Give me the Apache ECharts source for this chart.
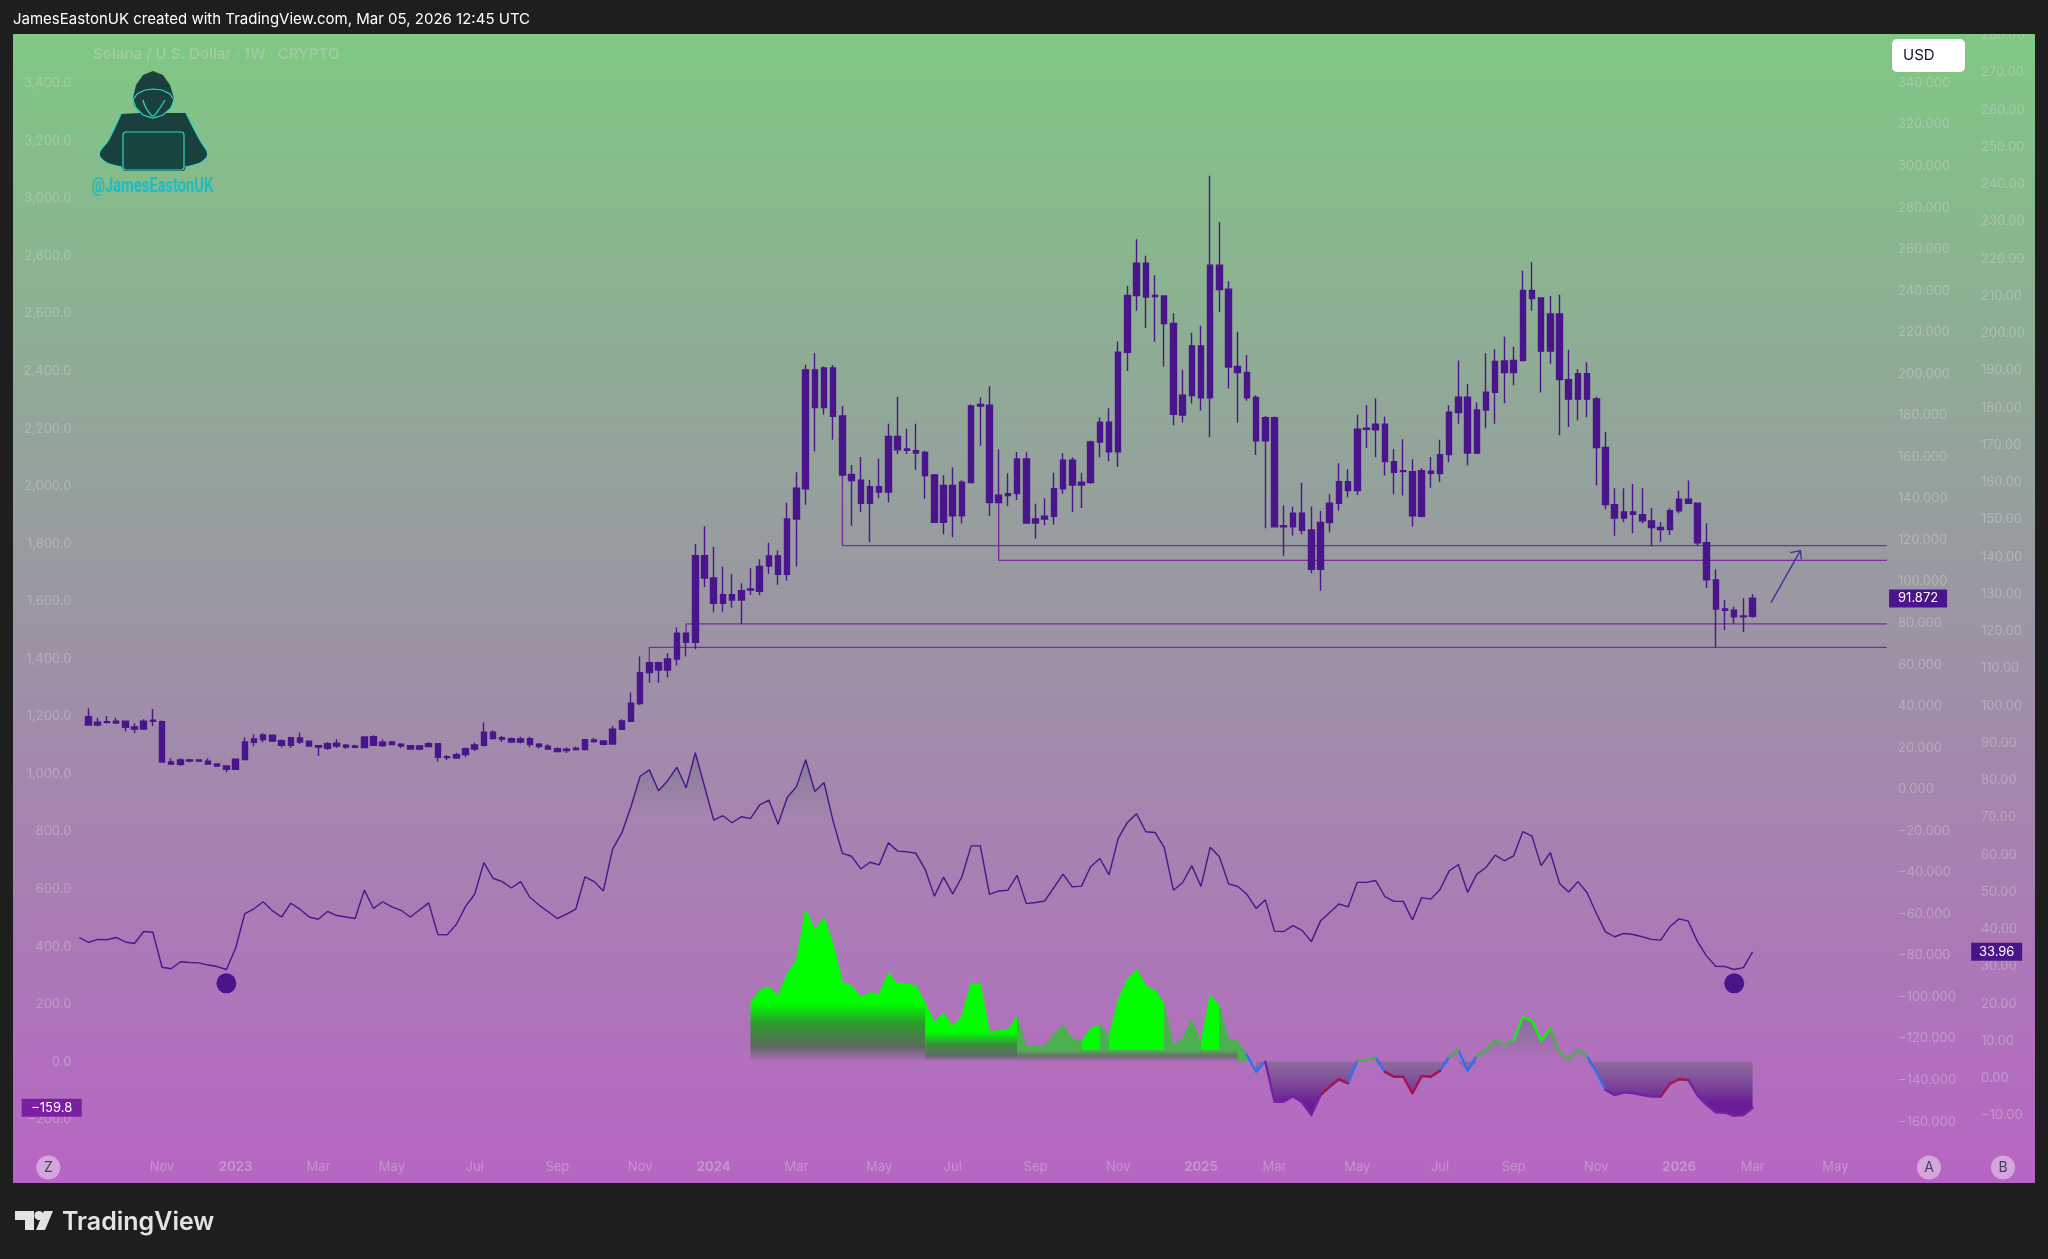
<!DOCTYPE html>
<html><head><meta charset="utf-8">
<style>html,body{margin:0;padding:0;background:#1e1e1e}#c{width:2048px;height:1259px}</style>
<script src="https://cdn.jsdelivr.net/npm/echarts@6/dist/echarts.min.js"></script>
</head><body><div id="c"></div>
<script>
// ---- weekly candles (all drawn in one colour, so body top / bottom are what can be read)
const bodyTop=[34.97,32.24,32.56,32.72,32.72,29.99,32.72,33.2,32.56,13.14,
14.1,14.1,14.1,13.46,12.18,11.21,14.42,22.77,24.21,26.14,
25.98,23.41,24.85,24.69,23.09,21,21.96,22.12,21.16,20.84,
25.17,25.33,22.6,22.77,21.64,21,20.84,21.96,21.96,15.7,
16.67,19.56,21.32,27.42,27.42,24.85,24.37,24.21,24.37,21.64,
20.68,19.56,19.24,19.72,23.89,23.73,23.25,28.87,32.88,41.39,
56.15,60.97,60.97,62.73,75.09,75.09,
112.48,112.48,101.73,93.7,93.7,95.6,96.4,107.3,112.3,112.3,130.1,144.9,201.9,201.9,202.8,202.8,179.7,151.5,148.8,145.7,145.7,169.9,169.9,163.8,163,162.2,151.3,146.3,146.3,147.8,184.5,185.2,184.9,141.5,142.3,159,159,130.1,131.4,144.7,158.4,158.4,147.8,167.2,
176.7,176.7,210.4,237.7,253.2,253.2,237.7,237.5,224.3,189.7,213.4,213.4,252.3,252.3,240.7,203.5,200.6,188.6,178.9,178.9,126.9,132.9,132.9,124.8,128.4,137.7,148.1,148.1,173.3,173.8,175.7,175.7,157.7,153.4,152.9,153.4,153.1,161.1,181.5,188.7,188.7,182.6,191.1,206,
206.2,206.4,240.1,240.1,236.5,228.8,228.8,197.2,200,200,187.9,164.5,137,133.5,133.5,132.2,129.2,126,134.1,139.6,139.6,137.7,118.7,100.8,86.8,86.2,83.4,92];
const bodyBottom=[30.95,30.95,32.08,31.92,29.83,29.03,29.03,32.72,13.14,12.18,
12.01,13.62,13.62,12.18,11.21,9.6,9.6,14.26,22.61,23.89,
23.25,21.16,21.16,22.77,20.84,20.36,19.72,20.84,20.36,20.2,
20.04,21.16,21,21.48,20.84,19.4,19.4,20.52,15.38,15.22,
15.06,16.67,19.4,21.16,24.37,24.21,22.77,22.77,21.48,20.52,
19.4,18.11,18.6,19.08,19.08,22.93,21.64,21.8,28.87,32.72,
41.2,56.15,57.43,57.43,62.73,70.76,
70.75,101.73,89.53,89.53,91.1,91.1,95.95,95.3,107.5,103.5,103.5,130.1,144.7,183.7,183.7,179.6,151.3,148.6,137.7,137.7,143.1,143.1,163.4,163.2,161.9,151,128.5,128.5,131.6,131.6,147.6,184.5,138,138,141.4,142.3,128.2,128.2,130.1,131.4,144.6,146.5,146.5,147.6,
167.2,162.4,162.4,210.4,237.7,237,237.2,224.2,180.5,180.2,189.5,188.4,188.4,240.6,203.3,200.6,188.4,167.7,167.7,126.3,126.4,126.3,124.7,105.9,105.9,128.4,137.7,143.8,143.8,173.3,173.1,157.7,152.6,152.9,131.6,131.4,152.1,152,161.1,181.3,161.9,161.8,182.6,191.1,
200.6,200.6,206.4,236.2,210.9,211,197.2,187.8,187.8,187.8,164.5,137,130.5,130.5,132.4,129.2,126,125,125,134.1,137.7,118.7,100.8,86.8,86.2,83,83,83.3];
const highs=[38.98,34.48,35.29,34.48,33.04,31.76,33.68,38.66,33.04,14.9,
14.9,14.58,14.26,14.9,12.5,11.37,14.74,25.01,26.46,26.94,
25.98,24.05,25.33,27.26,23.41,21.16,22.77,24.05,21.8,21.48,
25.33,25.98,24.05,23.25,22.12,21.32,21.32,22.6,22.29,16.51,
17.63,20.04,22.44,32.08,28.38,25.65,24.85,25.33,25.33,22.29,
21.64,20.2,20.04,20.52,24.21,24.85,23.73,30.47,33.68,46.52,
63.9,61.5,61.1,65.46,77.98,75.5,
118.1,126.45,116.8,107.2,103.5,99.2,106.4,110.7,118.7,114.9,138,152.6,204.4,209.9,203.5,204.3,184.5,156.1,160,148.9,159.2,175.9,189,173.6,175.9,163,151.8,151.2,154.9,148.8,185.2,188.6,194,163.7,152.1,162.4,162.2,137.4,140.1,152.4,161.8,159.8,152.4,167.9,
179.1,183.4,215.5,242.3,264.8,256.8,247.5,237.5,229.2,201.9,219.8,223.1,295.3,273,244.6,220.3,209.1,189.7,179.7,179.4,136.7,136.1,147.6,136.1,134,142,156.9,154,180.4,184.9,188.1,179.4,163.7,168.5,158.9,154.5,160,168.2,184.9,206.4,195.1,186.3,209.9,211.8,
217.9,213.1,249.7,253.7,236.9,237.5,238,211.5,202.2,205.6,189,172,144.9,144.9,147,144.9,135.4,128.7,135.3,143.8,148.6,138,128,105.9,91.1,87.9,92,94];
const lows=[30.63,30.31,31.76,31.6,27.9,26.94,28.54,30.47,12.82,11.85,
11.21,12.98,13.3,11.85,11.05,8.16,9.6,14.1,20.68,22.6,
22.77,20.04,19.88,21.96,20.68,16.03,18.92,19.88,19.4,20.04,
19.88,21,20.36,21.32,19.88,19.24,18.76,20.2,13.3,14.1,
14.9,15.55,18.43,20.52,24.05,22.77,22.44,22.12,20.2,19.72,
18.92,17.79,17.47,18.6,18.76,22.44,21.16,21.64,28.54,32.56,
40.6,51.3,51.3,53.74,59.52,63.85,
67.4,97.4,85.2,85.5,87.4,79.6,93.5,93.4,103.7,98.5,100.4,107.2,137,162.6,180.4,168.2,151,126.8,133.5,118.9,140.1,138,161.4,161.4,153.7,139.8,128.4,122.6,121.3,127.9,147.5,165.4,131.6,137.8,136.4,139.3,127.9,120.7,127.1,127.4,142.2,133.5,135.4,147.1,
159.7,157.9,155.3,201.4,230.3,222,215.4,203.5,175.2,176.5,185.7,182.3,169.5,229.8,192.9,176.5,187,160.9,125.6,126,112.3,122.1,122.8,104,95.6,123.7,134.1,140.6,141.7,164.3,159.8,151,142,141.4,126.4,130.9,145.2,147.9,157.4,175.9,156,161.4,173.8,175.9,
185.8,194.5,206.2,230.4,191,204.8,170.4,174.4,177.6,179.1,146.2,134.8,122,128.7,123.2,128.1,117,119.2,122.4,132.9,137.5,117.1,96.9,68.2,76.7,79.7,75.7,82.6];
// ---- RSI-style line on the right-hand scale (rsiLead is the point just before the first candle)
const rsiLead=37.8;
const rsiValues=[36.5,37.3,37.2,37.8,36.6,36.2,39.4,39.2,29.8,29.4,31.3,31.1,31,30.4,30,29.2,34.9,44.2,45.5,47.4,45,43.3,47,45.4,43.3,42.7,44.8,43.7,43.3,42.9,50.5,45.6,47.4,46,45.1,43.3,45.2,47.1,38.6,38.5,41.3,46.1,49.4,57.9,53.7,52.8,51.1,52.8,48.6,46.5,44.7,42.9,44.1,45.4,54.1,52.8,50.3,61.5,65.8,72.9,
81.1,82.8,77.2,79.9,83.5,78,87.4,78.4,69.3,70.5,68.6,70.2,69.7,73.4,74.7,68.2,75.4,78.3,85.5,77,79.4,68.9,60.4,59.6,56.2,58,57.3,63.2,61,60.8,60.4,56.1,48.9,54,49.5,54.1,62.4,62.4,49.4,50.3,50.5,54.5,46.9,47.2,47.6,51.2,54.8,51.4,51.6,56.8,59,54.6,64.4,68.7,71,66.2,66,62,50.5,52.5,57.1,51.5,62,59.5,52.2,51.5,49.4,45.6,47.9,39.5,39.4,41,39.7,36.7,42.2,44.5,46.8,46,52.6,52.6,53.1,48.8,47.5,47.5,42.5,48.5,48.1,50.7,55.7,57.4,49.9,54.8,56.6,59.9,58.4,59.7,66.2,65,57.1,60.6,52.3,50,52.8,49.8,44.3,39.3,38,38.9,38.6,38,37.3,37.1,40.7,42.8,42.2,36.7,32.8,30.1,30,29.2,29.7,33.96];
const markerLevel=25.5, markerWeeks=[15,179];
// ---- oscillator on the left-hand scale, starts at week 72
const oscStart=72;
const oscValues=[203,249,259,228,307,353,527,458,500,405,276,264,224,240,235,309,272,270,264,203,136,168,122,159,272,272,104,108,110,156,55,56,55,93,128,81,70,116,128,87,214,286,321,263,247,203,58,78,145,64,232,193,79,70,23,-35,
0,-139,-139,-120,-141,-185,-116,-87,-61,-75,4,4,15,-35,-52,-52,-110,-50,-52,-31,18,41,-31,20,41,73,60,73,154,143,73,114,33,8,43,20,-35,-98,-116,-106,-109,-116,-121,-121,-77,-61,-63,-116,-150,-176,-177,-188,-185,-159.8];
// week ranges of each colour of the oscillator
const brightFillA=[[72,91]], brightFillB=[[91,101]];
const brightFillC=[[105,106],[108,110],[111,117],[119,120],[121,123]];
const mutedFillC=[[101,105],[106,108],[110,111],[117,119],[120,121],[123,125]];
const mutedTail=[[125,126]];
const blueWeeks=[[126,128],[137,138],[140,141],[147,148],[149,151],[163,165]];
const mutedLineWeeks=[[138,140],[148,149],[151,155],[157,158],[159,163]];
const brightLineWeeks=[[155,157],[158,159]];
const redWeeks=[[134,137],[141,147],[171,174]];
const purpleWeeks=[[128,134],[165,171],[174,181]];
const baseBands=[[72,91,203],[91,101,104],[101,125,40]];
// ---- horizontal levels (week, price)
const levelA=[[82,151.3],[82,117.3],[195.6,117.3]];
const levelB=[[99,138],[99,110.2],[195.6,110.2]];
const levelC=[[65,75.1],[65,79.6],[195.6,79.6]];
const levelD=[[61,61],[61,68.3],[195.6,68.3]];
const arrowShaft=[[183,89.8],[186.2,114.9]];
const arrowHead=[[185.1,113.9],[186.2,114.9],[186.3,110.7]];
// ---- tick labels
const timeTicks=[[8,'Nov'],[16,'2023'],[25,'Mar'],[33,'May'],[42,'Jul'],[51,'Sep'],[60,'Nov'],[68,'2024'],[77,'Mar'],[86,'May'],[94,'Jul'],[103,'Sep'],[112,'Nov'],[121,'2025'],[129,'Mar'],[138,'May'],[147,'Jul'],[155,'Sep'],[164,'Nov'],[173,'2026'],[181,'Mar'],[190,'May']];
const lastPrice=91.872, lastRsi=33.96, lastOsc=-159.8;

const PRE=8, TOTAL=220, INK='#4a148c', LEVEL='#7a2ba0';
const FAINT='rgba(214,214,214,0.42)';
const FONT='Inter, "Noto Sans", sans-serif';
const firstWeek=Date.UTC(2022,8,12);
const categories=[];
for(let c=0;c<TOTAL;c++){categories.push(new Date(firstWeek+(c-PRE)*7*864e5).toISOString().slice(0,10));}
const tickByCat={};timeTicks.forEach(t=>{tickByCat[t[0]+PRE]=t[1];});
const pad=(v)=>Array(PRE).fill(null).concat(v);
const oscAt=w=>oscValues[w-oscStart];
function zone(ranges,map){
  const a=Array(TOTAL).fill(null);
  ranges.forEach(r=>{for(let w=r[0];w<=r[1];w++){const v=oscAt(w);a[w+PRE]=map?map(v):v;}});
  return a;
}
const minus=s=>s.replace('-','\u2212');
const blankCandle=['-','-','-','-'];
const candleData=Array(PRE).fill(blankCandle).concat(bodyTop.map((t,i)=>[bodyBottom[i],t,lows[i],highs[i]]));
const grad=(stops)=>new echarts.graphic.LinearGradient(0,0,0,1,stops);
const lineBase={type:'line',xAxisIndex:1,yAxisIndex:1,showSymbol:false,symbol:'none',silent:true,connectNulls:false};
function fillZone(ranges,color,origin){return Object.assign({},lineBase,{data:zone(ranges),lineStyle:{color,width:1},itemStyle:{color},areaStyle:{color,opacity:1,origin},z:2});}
function lineZone(ranges,color,w){return Object.assign({},lineBase,{data:zone(ranges),lineStyle:{color,width:w||2.4,cap:'round',join:'round'},itemStyle:{color},z:6});}
function band(b,stops){const a=Array(TOTAL).fill(null);for(let w=b[0];w<=b[1];w++)a[w+PRE]=b[2];
  return Object.assign({},lineBase,{data:a,lineStyle:{width:0},areaStyle:{color:grad(stops),opacity:1},z:3});}
function drawing(d,w){return {type:'line',xAxisIndex:3,yAxisIndex:0,data:d,showSymbol:false,symbol:'none',silent:true,lineStyle:{color:LEVEL,width:w||1.4},z:4};}
function arrowPart(d){return {type:'line',xAxisIndex:3,yAxisIndex:0,data:d,showSymbol:false,symbol:'none',silent:true,lineStyle:{color:'#4f2a9c',width:1.4},z:4};}
const rsiOver=rsiValues.map((v,i)=>(v>70||rsiValues[i-1]>70||rsiValues[i+1]>70)?Math.max(v,70):null);
function valueBox(coord,val,text,color,w,off){
  return {symbol:'rect',symbolSize:[w,18],silent:true,
    data:[{coord:[coord,val],value:text,symbolOffset:[off||0,0],itemStyle:{color},label:{show:true,position:'inside',formatter:text,color:'#fff',fontFamily:FONT,fontSize:13}}]};
}
const tx=(x,y,text,o,extra)=>Object.assign({type:'text',x,y,z:110,silent:true,style:Object.assign({text,fill:'#fff',font:'15px '+FONT,textVerticalAlign:'middle'},o||{})},extra||{});
const dot=(x,y,letter)=>[{type:'circle',shape:{cx:x,cy:y,r:12},z:110,silent:true,style:{fill:'rgba(255,255,255,0.42)'}},
  {type:'text',x,y,z:111,silent:true,style:{text:letter,fill:'#4a3a5c',font:'14px '+FONT,textAlign:'center',textVerticalAlign:'middle'}}];
const LOGO_EDGE='#2ed8c3', LOGO_FILL='#1b3f3c';
const edge=(points,z)=>({type:'polyline',z:z||106,silent:true,shape:{points,smooth:0.3},style:{fill:'none',stroke:LOGO_EDGE,lineWidth:1.2}});
const graphic=[
  {type:'rect',shape:{x:13,y:34,width:2022,height:1149},z:-100,silent:true,style:{fill:new echarts.graphic.LinearGradient(0,0,0,1,[{offset:0,color:'rgb(127,200,131)'},{offset:1,color:'rgb(183,101,196)'}])}},
  {type:'rect',shape:{x:0,y:0,width:2048,height:34},z:100,silent:true,style:{fill:'#1e1e1e'}},
  tx(13,19.5,'JamesEastonUK created with TradingView.com, Mar 05, 2026 12:45 UTC',{font:'15px '+FONT}),
  tx(93,54,'Solana / U.S. Dollar \u00b7 1W \u00b7 CRYPTO',{fill:'rgba(214,214,214,0.36)',font:'600 15px '+FONT}),
  {type:'rect',shape:{x:1892,y:39,width:73,height:33,r:5},z:110,silent:true,style:{fill:'#fff'}},
  tx(1903,55,'USD',{fill:'#131722',font:'15px '+FONT}),
  ...dot(48.3,1167.5,'Z'),...dot(1929,1167.5,'A'),...dot(2003,1167.5,'B'),
  {type:'polygon',z:105,silent:true,shape:{points:[[153,71],[163,75],[170,85],[174,98],[172,106],[166,113],[186,113],[193,127],[201,142],[207,151],[207,157],[200,163],[186,167],[184,171],[124,171],[121,167],[107,163],[100,157],[100,151],[108,141],[115,127],[121,114],[140,113],[134,106],[133,98],[136,85],[143,75]]},style:{fill:LOGO_FILL}},
  {type:'polygon',z:106,silent:true,shape:{points:[[133,100],[137,94],[145,90],[153,89],[162,90],[170,94],[174,100],[171,108],[163,115],[153,118],[143,115],[136,108]]},style:{fill:'none',stroke:LOGO_EDGE,lineWidth:1.2}},
  edge([[143,100],[146,108],[153,116],[160,108],[165,100]]),
  edge([[121,114],[115,127],[108,141],[100,151],[100,157],[107,163],[122,167]]),
  edge([[186,113],[193,127],[201,142],[207,151],[207,157],[200,163],[185,167]]),
  {type:'rect',z:107,silent:true,shape:{x:123,y:132,width:61,height:38,r:3},style:{fill:'#17453f',stroke:LOGO_EDGE,lineWidth:1.2}},
  tx(152.5,187,'@JamesEastonUK',{fill:'#1fbcc4',font:'bold 21px "Liberation Sans Narrow", Roboto, sans-serif',textAlign:'center'},{scaleX:0.7}),
  {type:'polygon',z:110,silent:true,shape:{points:[[15,1211],[34,1211],[34,1230],[25,1230],[25,1220],[15,1220]]},style:{fill:'#e3e3e3'}},
  {type:'circle',z:110,silent:true,shape:{cx:39,cy:1215.6,r:4.6},style:{fill:'#e3e3e3'}},
  {type:'polygon',z:110,silent:true,shape:{points:[[44,1211],[53,1211],[45,1230],[36,1230]]},style:{fill:'#e3e3e3'}},
  tx(62,1222,'TradingView',{fill:'#e3e3e3',font:'600 25px '+FONT})
];
const gridPos=(top,height)=>({left:10.35,width:2022.68,top,height});
const hiddenCat=i=>({type:'category',gridIndex:i,data:categories,show:false});
const faintLabel=(margin,align)=>({inside:true,margin,align,color:FAINT,fontFamily:FONT,fontSize:13,padding:[2,0,0,0],showMinLabel:true,showMaxLabel:true});
const option={
  animation:false,backgroundColor:'#1e1e1e',graphic,
  grid:[gridPos(83,1038.6),gridPos(83.3,1036),gridPos(35.3,1080.25)],
  xAxis:[
   {type:'category',gridIndex:0,data:categories,axisLine:{show:false},axisTick:{show:false},splitLine:{show:false},
    axisLabel:{interval:0,margin:39,color:FAINT,fontFamily:FONT,fontSize:13,hideOverlap:false,
      formatter:(v,i)=>{const t=tickByCat[i];if(!t)return '';return /^\d/.test(t)?'{y|'+t+'}':t;},
      rich:{y:{fontWeight:'bold',color:FAINT,fontFamily:FONT,fontSize:13}}}},
   hiddenCat(1),hiddenCat(2),
   {type:'value',gridIndex:0,min:-8.5,max:211.5,show:false,splitLine:{show:false}}
  ],
  yAxis:[
   {type:'value',gridIndex:0,position:'right',min:-160,max:340,interval:20,splitLine:{show:false},axisLine:{show:false},axisTick:{show:false},
    axisLabel:Object.assign(faintLabel(135,'left'),{formatter:v=>minus(v.toFixed(3))})},
   {type:'value',gridIndex:1,position:'left',min:-200,max:3400,interval:200,splitLine:{show:false},axisLine:{show:false},axisTick:{show:false},
    axisLabel:Object.assign(faintLabel(61,'right'),{formatter:v=>minus(v.toLocaleString('en-US',{minimumFractionDigits:1,maximumFractionDigits:1}))})},
   {type:'value',gridIndex:2,position:'right',min:-10,max:280,interval:10,splitLine:{show:false},axisLine:{show:false},axisTick:{show:false},
    axisLabel:Object.assign(faintLabel(52,'left'),{formatter:v=>minus(v.toFixed(2))})}
  ],
  series:[
   // overbought shading of the line
   {type:'line',xAxisIndex:2,yAxisIndex:2,data:pad(rsiOver),showSymbol:false,symbol:'none',silent:true,lineStyle:{width:0},z:1,
    areaStyle:{origin:70,opacity:1,color:new echarts.graphic.LinearGradient(0,754,0,818,[{offset:0,color:'rgba(105,115,125,0.55)'},{offset:1,color:'rgba(105,115,125,0)'}],true)}},
   fillZone(brightFillA,'#00ff00',baseBands[0][2]),
   fillZone(brightFillB,'#00ff00',baseBands[1][2]),
   fillZone(brightFillC,'#00ff00',baseBands[2][2]),
   fillZone(mutedFillC,'#4caf50',baseBands[2][2]),
   fillZone(mutedTail,'#4caf50',0),
   band(baseBands[0],[{offset:0,color:'rgba(0,255,0,1)'},{offset:0.35,color:'rgba(45,155,45,1)'},{offset:0.75,color:'rgba(92,105,95,1)'},{offset:1,color:'rgba(110,95,125,0)'}]),
   band(baseBands[1],[{offset:0,color:'rgba(0,255,0,1)'},{offset:0.45,color:'rgba(60,140,60,1)'},{offset:0.8,color:'rgba(95,105,100,0.95)'},{offset:1,color:'rgba(110,95,125,0)'}]),
   band(baseBands[2],[{offset:0,color:'rgba(76,175,80,1)'},{offset:0.5,color:'rgba(95,115,95,0.95)'},{offset:1,color:'rgba(110,95,125,0)'}]),
   // shading after the solid fills stop
   Object.assign({},lineBase,{data:zone([[137,165]],v=>Math.max(v,0)),lineStyle:{width:0},z:3,
     areaStyle:{opacity:1,color:grad([{offset:0,color:'rgba(105,115,130,0.65)'},{offset:1,color:'rgba(105,115,130,0)'}])}}),
   Object.assign({},lineBase,{data:zone([[127,181]],v=>Math.min(v,0)),lineStyle:{width:0},z:3,
     areaStyle:{opacity:1,color:grad([{offset:0,color:'rgba(115,100,135,0.55)'},{offset:0.75,color:'rgba(106,30,150,1)'},{offset:1,color:'rgba(106,27,154,1)'}])}}),
   lineZone(blueWeeks,'#2f6ff0'),lineZone(mutedLineWeeks,'#4caf50'),lineZone(brightLineWeeks,'#14f014'),lineZone(redWeeks,'#a5124f'),lineZone(purpleWeeks,'#7a1fa2'),
   // value tag for the oscillator
   Object.assign({},lineBase,{data:zone([[181,181]]),markPoint:valueBox(4,lastOsc,'\u2212159.8','#7b1fa2',60),z:20}),
   // RSI line
   {type:'line',xAxisIndex:2,yAxisIndex:2,data:Array(PRE-1).fill(null).concat([rsiLead],rsiValues),showSymbol:false,symbol:'none',silent:true,lineStyle:{color:INK,width:1.4},z:5,
    markPoint:valueBox(215,lastRsi,'33.96',INK,51,5)},
   {type:'scatter',xAxisIndex:2,yAxisIndex:2,data:markerWeeks.map(w=>[w+PRE,markerLevel]),symbol:'circle',symbolSize:20,silent:true,itemStyle:{color:INK,opacity:1},z:6},
   // levels and arrow
   drawing(levelA),drawing(levelB),drawing(levelC),drawing(levelD),
   arrowPart(arrowShaft),arrowPart(arrowHead),
   // candles
   {type:'candlestick',xAxisIndex:0,yAxisIndex:0,data:candleData,barWidth:6,silent:true,z:7,
    itemStyle:{color:INK,color0:INK,borderColor:INK,borderColor0:INK,borderWidth:1.4},
    markPoint:valueBox(207,lastPrice,'91.872',INK,58)}
  ]
};
echarts.init(document.getElementById('c'),null,{renderer:'canvas'}).setOption(option);
</script></body></html>
